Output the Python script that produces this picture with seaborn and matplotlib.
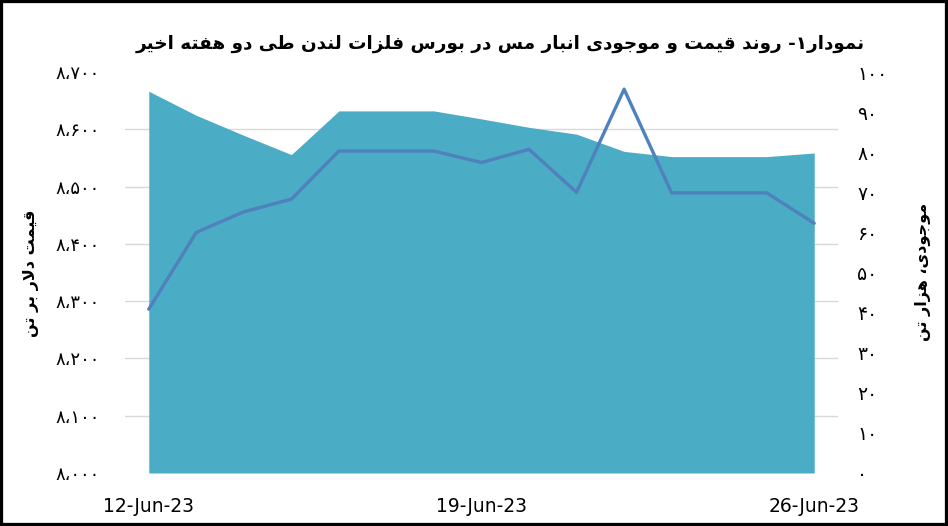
### Bibliotecas
import pandas as pd
import matplotlib.pyplot as plt
import matplotlib.dates as mdates
from matplotlib.ticker import FuncFormatter, FixedLocator
from matplotlib.patches import Rectangle
import seaborn as sns
import numpy as np

### Dados
datas = ["2023-06-12", "2023-06-13", "2023-06-14", "2023-06-15", "2023-06-16",
         "2023-06-17", "2023-06-18", "2023-06-19", "2023-06-20", "2023-06-21",
         "2023-06-22", "2023-06-23", "2023-06-24", "2023-06-25", "2023-06-26"]
preco = [8286, 8420, 8456, 8478, 8562, 8562, 8562, 8542, 8565, 8490,
         8670, 8489, 8489, 8489, 8436]
estoque = [95.2, 89.2, 84.2, 79.4, 90.3, 90.3, 90.3, 88.3, 86.2, 84.5,
           80.2, 78.9, 78.9, 78.9, 79.8]
datas_ticks = ["2023-06-12", "2023-06-19", "2023-06-26"]
ticks_esq = [8000, 8100, 8200, 8300, 8400, 8500, 8600, 8700]
ticks_dir = [0, 10, 20, 30, 40, 50, 60, 70, 80, 90, 100]

titulo = "نمودار۱- روند قیمت و موجودی انبار مس در بورس فلزات لندن طی دو هفته اخیر"
rotulo_esq = "قیمت دلار بر تن"
rotulo_dir = "موجودی، هزار تن"

### Formas do árabe (isolada, final, inicial, medial) - matplotlib não faz shaping
FORMAS = {
    "\u0627": ("\uFE8D", "\uFE8E", None, None),        # ا
    "\u0628": ("\uFE8F", "\uFE90", "\uFE91", "\uFE92"),  # ب
    "\u062A": ("\uFE95", "\uFE96", "\uFE97", "\uFE98"),  # ت
    "\u062C": ("\uFE9D", "\uFE9E", "\uFE9F", "\uFEA0"),  # ج
    "\u062E": ("\uFEA5", "\uFEA6", "\uFEA7", "\uFEA8"),  # خ
    "\u062F": ("\uFEA9", "\uFEAA", None, None),        # د
    "\u0631": ("\uFEAD", "\uFEAE", None, None),        # ر
    "\u0632": ("\uFEAF", "\uFEB0", None, None),        # ز
    "\u0633": ("\uFEB1", "\uFEB2", "\uFEB3", "\uFEB4"),  # س
    "\u0637": ("\uFEC1", "\uFEC2", "\uFEC3", "\uFEC4"),  # ط
    "\u0641": ("\uFED1", "\uFED2", "\uFED3", "\uFED4"),  # ف
    "\u0642": ("\uFED5", "\uFED6", "\uFED7", "\uFED8"),  # ق
    "\u0644": ("\uFEDD", "\uFEDE", "\uFEDF", "\uFEE0"),  # ل
    "\u0645": ("\uFEE1", "\uFEE2", "\uFEE3", "\uFEE4"),  # م
    "\u0646": ("\uFEE5", "\uFEE6", "\uFEE7", "\uFEE8"),  # ن
    "\u0647": ("\uFEE9", "\uFEEA", "\uFEEB", "\uFEEC"),  # ه
    "\u0648": ("\uFEED", "\uFEEE", None, None),        # و
    "\u06CC": ("\uFEEF", "\uFEF0", "\uFEF3", "\uFEF4"),  # ی
}


def dual(c):
    return c in FORMAS and FORMAS[c][2] is not None


def shape(txt):
    txt = txt.replace("\u064A", "\u06CC")
    n = len(txt)
    out = []
    i = 0
    while i < n:
        c = txt[i]
        ant = txt[i - 1] if i > 0 else ""
        liga_ant = dual(ant) and c in FORMAS
        if c == "\u0644" and i + 1 < n and txt[i + 1] == "\u0627":
            out.append("\uFEFC" if liga_ant else "\uFEFB")
            i += 2
            continue
        if c not in FORMAS:
            out.append(c)
            i += 1
            continue
        prox = txt[i + 1] if i + 1 < n else ""
        liga_prox = dual(c) and prox in FORMAS
        iso, fin, ini, med = FORMAS[c]
        if liga_ant and liga_prox:
            out.append(med)
        elif liga_ant:
            out.append(fin)
        elif liga_prox:
            out.append(ini)
        else:
            out.append(iso)
        i += 1
    return "".join(out[::-1])


def fa_num(s):
    return s.translate(str.maketrans("0123456789,", "۰۱۲۳۴۵۶۷۸۹\u060C"))


### Dataframe
df = pd.DataFrame({"data": pd.to_datetime(datas), "preco": preco, "estoque": estoque})

### Figura
sns.set_style("white")
plt.rcParams["font.family"] = ["DejaVu Sans"]
plt.rcParams["text.color"] = "black"
plt.rcParams["xtick.color"] = "black"
plt.rcParams["ytick.color"] = "black"

fig = plt.figure(figsize=(9.48, 5.26), dpi=100)
ax = fig.add_axes([125 / 948, 1 - 473 / 526, (838 - 125) / 948, (473 - 72) / 526])
ax2 = ax.twinx()
ax.set_zorder(2)
ax2.set_zorder(1)
ax.patch.set_visible(False)

# área (estoque, eixo direito)
ax2.fill_between(df["data"], df["estoque"], color="#4BACC6", lw=0, zorder=2)
ax2.set_ylim(0, 100)
ax2.yaxis.set_major_locator(FixedLocator(ticks_dir))
ax2.yaxis.set_minor_locator(FixedLocator(np.linspace(0, 100, len(ticks_esq))))
ax2.grid(False, which="major")
ax2.grid(True, which="minor", color="#d9d9d9", lw=1.0)
ax2.set_axisbelow(True)
ax2.yaxis.set_major_formatter(FuncFormatter(lambda v, p: fa_num(f"{v:.0f}")))
ax2.tick_params(axis="y", which="both", length=0, pad=14, labelsize=13.5)

# linha (preço, eixo esquerdo)
sns.lineplot(data=df, x="data", y="preco", ax=ax, color="#4F81BD", lw=2.4)
ax.set_ylim(8000, 8700)
ax.set_yticks(ticks_esq)
ax.yaxis.set_major_formatter(FuncFormatter(lambda v, p: fa_num(f"{v:,.0f}")))
ax.tick_params(axis="y", length=0, pad=18, labelsize=13)
ax.set_xlabel("")
ax.set_ylabel("")
ax2.set_ylabel("")

meio_dia = pd.Timedelta(hours=12)
ax.set_xlim(df["data"].iloc[0] - meio_dia, df["data"].iloc[-1] + meio_dia)
ax.set_xticks(pd.to_datetime(datas_ticks))
ax.xaxis.set_major_formatter(mdates.DateFormatter("%d-%b-%y"))
ax.tick_params(axis="x", length=0, pad=17, labelsize=13.5)

for a in (ax, ax2):
    for s in a.spines.values():
        s.set_visible(False)

### Textos
fig.text(500 / 948, 1 - 44 / 526, shape(titulo), ha="center", va="center",
         fontsize=13.2, fontweight="bold")
fig.text(31 / 948, 1 - 273 / 526, shape(rotulo_esq), ha="center", va="center",
         rotation=90, fontsize=11.5, fontweight="bold")
fig.text(923 / 948, 1 - 272 / 526, shape(rotulo_dir), ha="center", va="center",
         rotation=90, fontsize=11.5, fontweight="bold")

# moldura
fig.add_artist(Rectangle((0, 0), 1, 1, transform=fig.transFigure, fill=False,
                         ec="black", lw=4.5))

plt.savefig("out.png", dpi=100)
